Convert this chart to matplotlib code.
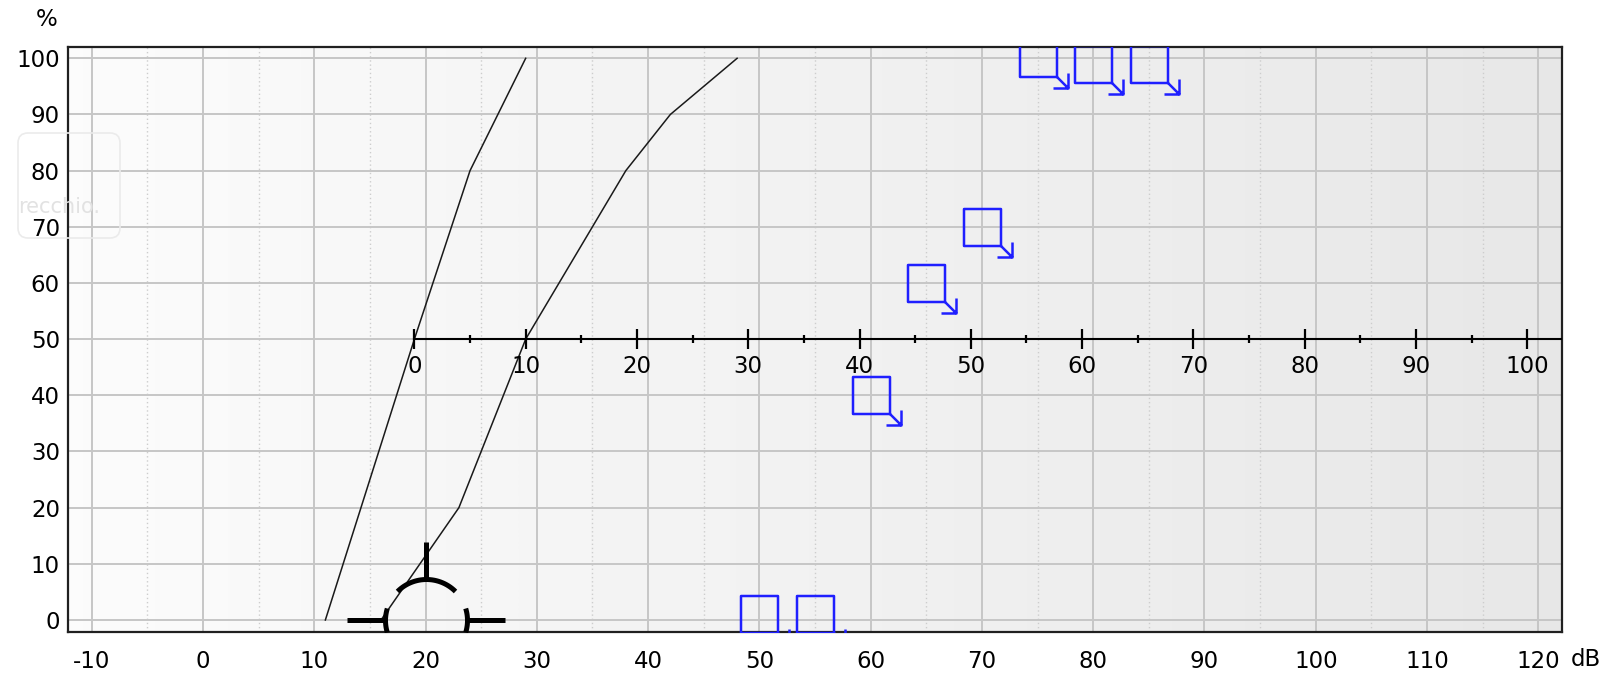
import numpy as np
import matplotlib
matplotlib.use("Agg")
import matplotlib.pyplot as plt
import matplotlib.patches as mpatches
from matplotlib.path import Path
from matplotlib.transforms import IdentityTransform

plt.rcParams['font.family'] = ['DejaVu Sans']

# curve di riferimento (dB, %)
curve1_db = [11, 19, 24, 29]
curve1_pct = [0, 50, 80, 100]
curve2_db = [16, 23, 29, 38, 42, 48]
curve2_pct = [0, 20, 50, 80, 90, 100]

# punti misurati (quadrati blu con freccia)
blue_db = [50, 55, 60, 65, 70, 75, 80, 85]
blue_pct = [1, 1, 40, 60, 70, 100, 99, 99]

# simbolo nero
black_db = [20]
black_pct = [0]

# asse interno
inner_origin_db = 19
inner_y = 50
inner_major = [0, 10, 20, 30, 40, 50, 60, 70, 80, 90, 100]
inner_minor = [5, 15, 25, 35, 45, 55, 65, 75, 85, 95]

x_ticks = [-10, 0, 10, 20, 30, 40, 50, 60, 70, 80, 90, 100, 110, 120]
x_minor = [-5, 5, 15, 25, 35, 45, 55, 65, 75, 85, 95, 105, 115]
y_ticks = [0, 10, 20, 30, 40, 50, 60, 70, 80, 90, 100]

FS = 16.5
W, H = 1606, 675
fig = plt.figure(figsize=(W / 100, H / 100), dpi=100)
ax = fig.add_axes([68.3 / W, 1 - 632.3 / H, (1561.7 - 68.3) / W, (632.3 - 47.3) / H])

# sfondo sfumato
grad = np.linspace(0.985, 0.905, 256).reshape(1, -1)
ax.imshow(grad, extent=[0, 1, 0, 1], transform=ax.transAxes, aspect='auto',
          cmap='gray', vmin=0, vmax=1, zorder=0, interpolation='bicubic')

ax.set_xlim(-12.1, 122.1)
ax.set_ylim(-2.19, 101.96)
ax.set_xticks(x_ticks)
ax.set_xticks(x_minor, minor=True)
ax.set_yticks(y_ticks)
ax.set_xticklabels([str(v) for v in x_ticks])
ax.set_yticklabels([str(v) for v in y_ticks])
ax.tick_params(which='both', length=0, labelsize=FS)
ax.tick_params(axis='x', pad=13)
ax.tick_params(axis='y', pad=6)
ax.grid(which='major', color='#c6c6c6', lw=1.4, zorder=1)
ax.grid(which='minor', axis='x', color='#cdcdcd', lw=1.0, ls=(0, (1, 2)), zorder=1)
ax.set_axisbelow(True)
for sp in ax.spines.values():
    sp.set_color('#202020')
    sp.set_linewidth(1.6)

# curve
ax.plot(curve1_db, curve1_pct, color='#1a1a1a', lw=1.1, zorder=3)
ax.plot(curve2_db, curve2_pct, color='#1a1a1a', lw=1.1, zorder=3)

# asse interno
ax.plot([inner_origin_db, 130], [inner_y, inner_y], color='black', lw=1.5, zorder=3)
ax.plot([inner_origin_db + v for v in inner_major], [inner_y] * len(inner_major),
        ls='none', marker='|', ms=14.5, mew=1.6, color='black', zorder=3)
ax.plot([inner_origin_db + v for v in inner_minor], [inner_y] * len(inner_minor),
        ls='none', marker='|', ms=5.8, mew=1.6, color='black', zorder=3)
for v in inner_major:
    ax.annotate(str(v), (inner_origin_db + v, inner_y), xytext=(0, -20),
                textcoords='offset points', ha='center', va='center',
                fontsize=FS, zorder=3)

# marker quadrato con freccia (px)
s, a, h = 18.5, 30, 15
verts = [(-s, -s), (s, -s), (s, s), (-s, s), (-s, -s),
         (s, -s), (a, -a),
         (h, -a), (a, -a), (a, -h)]
codes = [Path.MOVETO, Path.LINETO, Path.LINETO, Path.LINETO, Path.CLOSEPOLY,
         Path.MOVETO, Path.LINETO,
         Path.MOVETO, Path.LINETO, Path.LINETO]
sq_arrow = Path(verts, codes)
ax.plot(blue_db, blue_pct, ls='none', marker=sq_arrow, ms=2 * a * 0.72,
        mfc='none', mec='#1f1fff', mew=1.8, zorder=4)

# simbolo nero: archi + trattini (px)
R, L = 41, 79
def arc(t0, t1, n=30):
    t = np.radians(np.linspace(t0, t1, n))
    return list(zip(R * np.cos(t), R * np.sin(t)))
bverts, bcodes = [], []
for seg in [arc(45, 135), arc(163, 197), arc(-17, 17),
            [(0, R), (0, 78)], [(-R, 0), (-L, 0)], [(R, 0), (L, 0)]]:
    bverts += seg
    bcodes += [Path.MOVETO] + [Path.LINETO] * (len(seg) - 1)
sym = Path(bverts, bcodes)
ax.plot(black_db, black_pct, ls='none', marker=sym, ms=2 * L * 0.72,
        mfc='none', mec='black', mew=3.6, zorder=4)

# etichette assi
fig.text(47 / W, 1 - 19 / H, '%', ha='center', va='center', fontsize=FS)
fig.text(1586 / W, 1 - 660 / H, 'dB', ha='center', va='center', fontsize=FS)

# riquadro sbiadito (solo bordo, le etichette restano nitide)
box = mpatches.FancyBboxPatch((18, H - 238), 102, 105,
                              boxstyle='round,pad=0,rounding_size=10',
                              transform=IdentityTransform(),
                              facecolor='none', edgecolor='#ebebeb', lw=1.2,
                              zorder=5)
fig.patches.append(box)
fig.text(18 / W, 1 - 207 / H, 'recchio.', ha='left', va='center',
         fontsize=15, color='#e2e2e2', zorder=6)

fig.savefig('out.png', dpi=100)
